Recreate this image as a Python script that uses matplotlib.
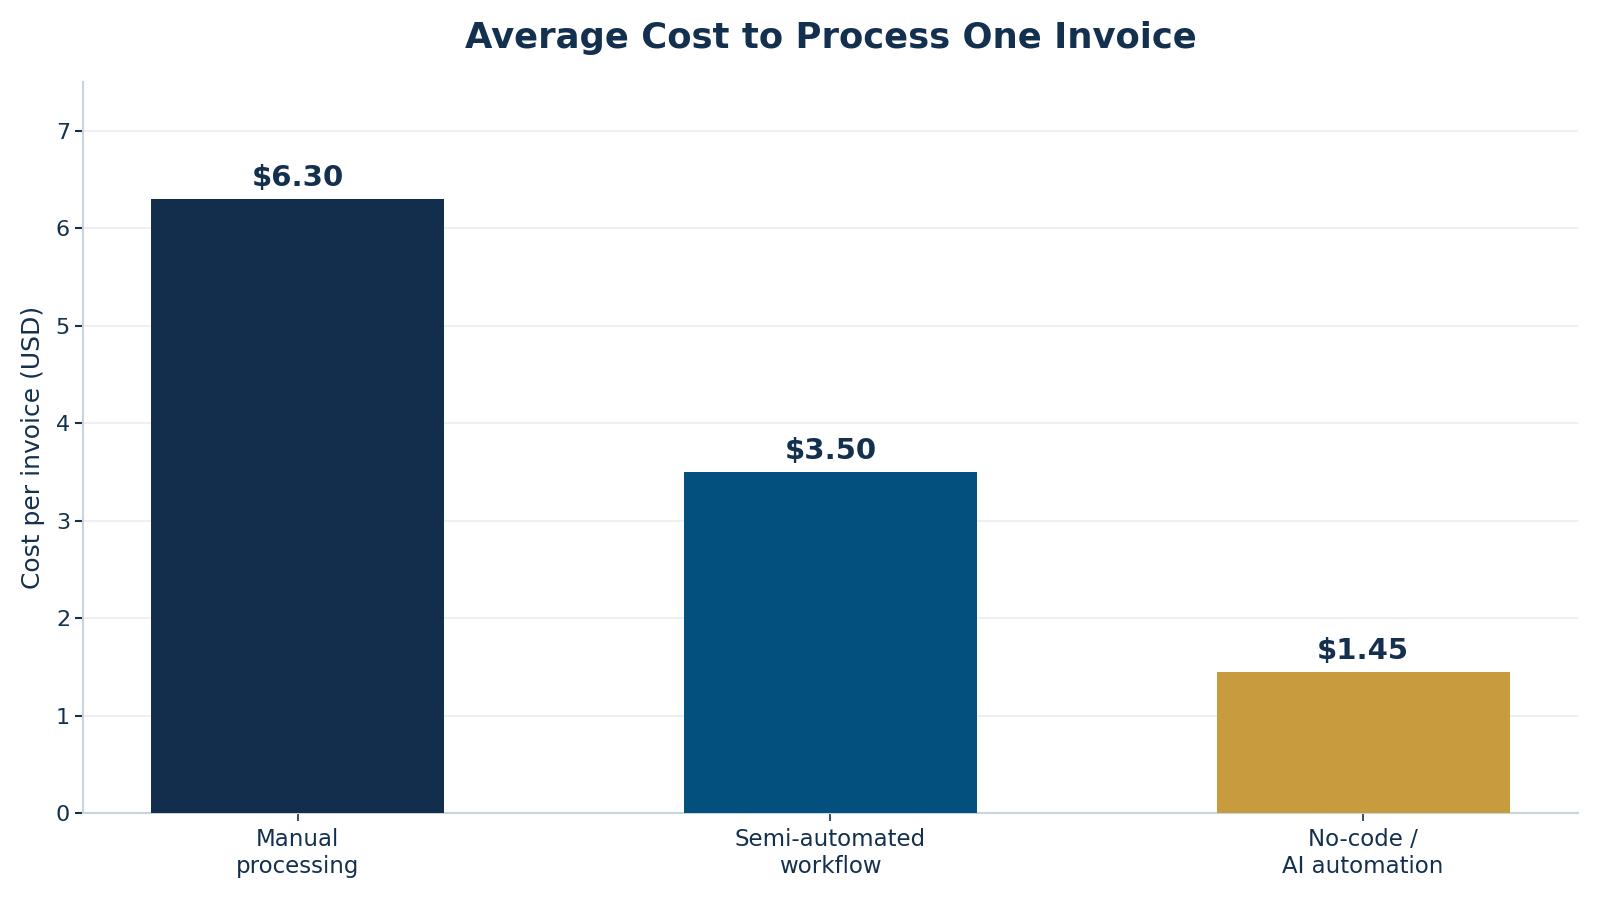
import matplotlib
matplotlib.use("Agg")
import matplotlib.pyplot as plt

categories = ["Manual\nprocessing", "Semi-automated\nworkflow", "No-code /\nAI automation"]
costs = [6.30, 3.50, 1.45]
bar_colors = ["#132e4d", "#03507f", "#c89b3e"]
value_labels = ["$6.30", "$3.50", "$1.45"]

TEXT = "#14304f"
SPINE = "#c8d3e0"
GRID = "#e9eef3"

fig = plt.figure(figsize=(16, 9), dpi=100)
ax = fig.add_axes([0.052, 0.0967, 0.934, 0.812])

x = range(len(categories))
bars = ax.bar(x, costs, width=0.55, color=bar_colors, zorder=3)
for bar, label in zip(bars, value_labels):
    ax.annotate(label, xy=(bar.get_x() + bar.get_width() / 2, bar.get_height()),
                xytext=(0, 5), textcoords="offset points", ha="center", va="bottom",
                fontsize=21, fontweight="bold", color=TEXT)

ax.set_ylim(0, 7.5)
ax.set_xticks(list(x))
ax.set_xticklabels(categories, fontsize=16.5, color=TEXT)
ax.tick_params(axis="y", labelsize=16, colors=TEXT, length=6, width=1.5)
ax.tick_params(axis="x", colors=TEXT, length=6, width=1.2, pad=5)
ax.set_ylabel("Cost per invoice (USD)", fontsize=18, color=TEXT, labelpad=8)
ax.grid(axis="y", color=GRID, linewidth=1.2, zorder=0)
ax.set_axisbelow(True)

for side in ("top", "right"):
    ax.spines[side].set_visible(False)
for side in ("left", "bottom"):
    ax.spines[side].set_color(SPINE)
    ax.spines[side].set_linewidth(1.5)

# title is centred over the axes, not the figure
ax.text(0.5, 0.958, "Average Cost to Process One Invoice", fontsize=25.5,
        fontweight="bold", color=TEXT, ha="center", va="center",
        transform=matplotlib.transforms.blended_transform_factory(ax.transAxes, fig.transFigure))

fig.savefig("out.png", dpi=100)
